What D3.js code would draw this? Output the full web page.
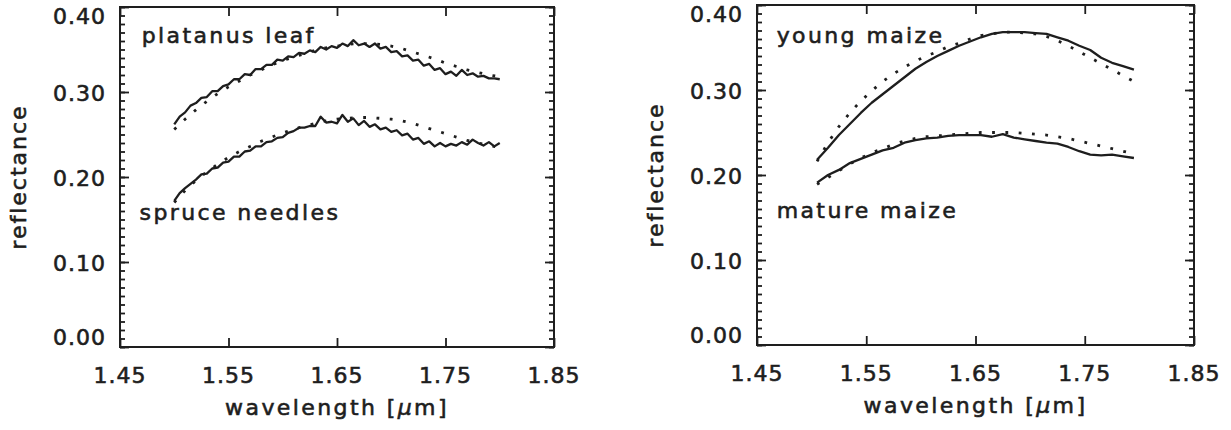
<!DOCTYPE html>
<html lang="en">
<head>
  <meta charset="UTF-8" />
  <title>Reflectance spectra 1.5 - 1.8 um</title>
  <script src="https://cdn.jsdelivr.net/npm/d3@7"></script>
  <style>
    body {
      margin: 0;
      background-color: #ffffff;
    }
    svg text {
      font-family: "DejaVu Sans", sans-serif;
      fill: #1e1e1e;
      stroke: #1e1e1e;
      stroke-width: 0.6px;
    }
  </style>
</head>
<body>
  <div id="chart"></div>

  <script>
    // axis ticks
    const xTicks = [1.45, 1.55, 1.65, 1.75, 1.85];
    const yTicks = [0.00, 0.10, 0.20, 0.30, 0.40];

    // wavelength grids [um]
    const wlFine = [1.500, 1.505, 1.510, 1.515, 1.520, 1.525, 1.530, 1.535, 1.540, 1.545,
                    1.550, 1.555, 1.560, 1.565, 1.570, 1.575, 1.580, 1.585, 1.590, 1.595,
                    1.600, 1.605, 1.610, 1.615, 1.620, 1.625, 1.630, 1.635, 1.640, 1.645,
                    1.650, 1.655, 1.660, 1.665, 1.670, 1.675, 1.680, 1.685, 1.690, 1.695,
                    1.700, 1.705, 1.710, 1.715, 1.720, 1.725, 1.730, 1.735, 1.740, 1.745,
                    1.750, 1.755, 1.760, 1.765, 1.770, 1.775, 1.780, 1.785, 1.790, 1.795, 1.800];
    const wlCoarse = [1.50, 1.51, 1.52, 1.53, 1.54, 1.55, 1.56, 1.57, 1.58, 1.59,
                      1.60, 1.61, 1.62, 1.63, 1.64, 1.65, 1.66, 1.67, 1.68, 1.69,
                      1.70, 1.71, 1.72, 1.73, 1.74, 1.75, 1.76, 1.77, 1.78, 1.79, 1.80];
    const wlMaize = [1.505, 1.515, 1.525, 1.535, 1.545, 1.555, 1.565, 1.575, 1.585, 1.595,
                     1.605, 1.615, 1.625, 1.635, 1.645, 1.655, 1.665, 1.675, 1.685, 1.695,
                     1.705, 1.715, 1.725, 1.735, 1.745, 1.755, 1.765, 1.775, 1.785, 1.795];

    // left panel: measured (solid) and modelled (dotted)
    const platanusMeasured = [0.262, 0.271, 0.276, 0.284, 0.287, 0.293, 0.294, 0.301, 0.301, 0.307,
                              0.309, 0.315, 0.315, 0.321, 0.320, 0.327, 0.327, 0.332, 0.332, 0.338,
                              0.337, 0.342, 0.341, 0.346, 0.345, 0.349, 0.347, 0.353, 0.350, 0.354,
                              0.352, 0.357, 0.354, 0.361, 0.355, 0.357, 0.353, 0.357, 0.351, 0.353,
                              0.347, 0.348, 0.342, 0.343, 0.337, 0.338, 0.331, 0.333, 0.326, 0.328,
                              0.321, 0.324, 0.319, 0.326, 0.320, 0.322, 0.318, 0.319, 0.316, 0.316, 0.315];
    const platanusModel = [0.256, 0.268, 0.279, 0.289, 0.298, 0.306, 0.313, 0.320, 0.326, 0.332,
                           0.337, 0.341, 0.345, 0.349, 0.352, 0.354, 0.356, 0.357, 0.357, 0.356,
                           0.354, 0.351, 0.347, 0.343, 0.339, 0.334, 0.330, 0.326, 0.323, 0.320, 0.318];
    const spruceMeasured = [0.172, 0.181, 0.187, 0.192, 0.197, 0.203, 0.204, 0.210, 0.211, 0.217,
                            0.218, 0.224, 0.224, 0.230, 0.231, 0.236, 0.236, 0.241, 0.242, 0.246,
                            0.247, 0.252, 0.254, 0.258, 0.258, 0.260, 0.260, 0.271, 0.264, 0.265,
                            0.263, 0.273, 0.265, 0.269, 0.261, 0.266, 0.259, 0.262, 0.256, 0.258,
                            0.253, 0.255, 0.249, 0.251, 0.244, 0.246, 0.239, 0.242, 0.236, 0.240,
                            0.236, 0.239, 0.237, 0.241, 0.238, 0.244, 0.240, 0.237, 0.241, 0.236, 0.240];
    const spruceModel = [0.170, 0.184, 0.196, 0.206, 0.215, 0.223, 0.230, 0.236, 0.242, 0.247,
                         0.252, 0.256, 0.260, 0.263, 0.266, 0.268, 0.269, 0.270, 0.270, 0.269,
                         0.268, 0.266, 0.263, 0.259, 0.255, 0.251, 0.247, 0.243, 0.240, 0.237, 0.235];

    // right panel
    const youngMeasured = [0.218, 0.232, 0.247, 0.260, 0.273, 0.285, 0.295, 0.305, 0.315, 0.325,
                           0.333, 0.340, 0.346, 0.352, 0.357, 0.362, 0.366, 0.368, 0.368, 0.368,
                           0.367, 0.366, 0.362, 0.358, 0.352, 0.347, 0.338, 0.332, 0.328, 0.324];
    const youngModel = [0.216, 0.238, 0.257, 0.273, 0.287, 0.299, 0.310, 0.319, 0.327, 0.334,
                        0.340, 0.345, 0.351, 0.355, 0.360, 0.364, 0.366, 0.368, 0.368, 0.367,
                        0.366, 0.363, 0.358, 0.352, 0.345, 0.338, 0.331, 0.324, 0.317, 0.310];
    const matureMeasured = [0.191, 0.200, 0.206, 0.214, 0.219, 0.224, 0.229, 0.232, 0.238, 0.241,
                            0.243, 0.244, 0.246, 0.247, 0.247, 0.247, 0.245, 0.248, 0.244, 0.242,
                            0.240, 0.238, 0.237, 0.233, 0.228, 0.224, 0.223, 0.224, 0.222, 0.220];
    const matureModel = [0.189, 0.197, 0.205, 0.213, 0.220, 0.226, 0.231, 0.236, 0.240, 0.243,
                         0.245, 0.246, 0.247, 0.248, 0.249, 0.250, 0.250, 0.250, 0.250, 0.249,
                         0.248, 0.247, 0.245, 0.243, 0.240, 0.237, 0.234, 0.231, 0.228, 0.225];

    const ink = "#1e1e1e";
    const W = 1231, H = 430;

    const svg = d3.select("#chart")
      .append("svg")
        .attr("width", W)
        .attr("height", H);

    function drawPanel(box, curves, names) {
      const g = svg.append("g");

      const x = d3.scaleLinear().domain([1.45, 1.85]).range([box.left, box.right]);
      const y = d3.scaleLinear().domain([0, 0.40]).range([box.bottom, box.top]);

      const minorY = d3.range(0, 41).map(d => d / 100);

      // minor + major ticks on left and right (pointing inward)
      [[box.left, 1], [box.right, -1]].forEach(([px, dir]) => {
        const ax = dir > 0 ? d3.axisLeft(y) : d3.axisRight(y);
        g.append("g")
          .attr("transform", `translate(${px},0)`)
          .call(ax.tickValues(minorY).tickSize(-5).tickFormat(""))
          .call(s => s.select(".domain").remove());
        const ax2 = dir > 0 ? d3.axisLeft(y) : d3.axisRight(y);
        g.append("g")
          .attr("transform", `translate(${px},0)`)
          .call(ax2.tickValues(yTicks).tickSize(-9).tickFormat(""))
          .call(s => s.select(".domain").remove());
      });

      // major ticks on bottom and top
      g.append("g")
        .attr("transform", `translate(0,${box.bottom})`)
        .call(d3.axisBottom(x).tickValues(xTicks).tickSize(-9).tickFormat(""))
        .call(s => s.select(".domain").remove());
      g.append("g")
        .attr("transform", `translate(0,${box.top})`)
        .call(d3.axisTop(x).tickValues(xTicks).tickSize(-9).tickFormat(""))
        .call(s => s.select(".domain").remove());

      g.selectAll(".tick line")
        .attr("stroke", ink)
        .attr("stroke-width", 1.8);

      // frame
      g.append("rect")
        .attr("x", box.left)
        .attr("y", box.top)
        .attr("width", box.right - box.left)
        .attr("height", box.bottom - box.top)
        .attr("fill", "none")
        .attr("stroke", ink)
        .attr("stroke-width", 2);

      // y tick labels (end labels pulled inside the frame)
      g.selectAll(".ylab")
        .data(yTicks)
        .join("text")
          .attr("class", "ylab")
          .attr("x", box.left - 14)
          .attr("y", (d, i) => y(d) + (i === 0 ? -8 : i === yTicks.length - 1 ? 11 : 3))
          .attr("text-anchor", "end")
          .attr("dominant-baseline", "middle")
          .attr("font-size", 22)
          .attr("letter-spacing", 1)
          .text(d => d.toFixed(2));

      // x tick labels
      g.selectAll(".xlab")
        .data(xTicks)
        .join("text")
          .attr("class", "xlab")
          .attr("x", d => x(d))
          .attr("y", box.bottom + 30)
          .attr("text-anchor", "middle")
          .attr("dominant-baseline", "middle")
          .attr("font-size", 22)
          .attr("letter-spacing", 1)
          .text(d => d.toFixed(2));

      // axis titles
      const xt = g.append("text")
        .attr("x", (box.left + box.right) / 2)
        .attr("y", box.bottom + 62)
        .attr("text-anchor", "middle")
        .attr("dominant-baseline", "middle")
        .attr("font-size", 22)
        .attr("letter-spacing", 2.4);
      xt.append("tspan").text("wavelength [");
      xt.append("tspan").attr("font-style", "italic").text("μ");
      xt.append("tspan").text("m]");

      g.append("text")
        .attr("transform", `translate(${box.left - 100},${(box.top + box.bottom) / 2}) rotate(-90)`)
        .attr("text-anchor", "middle")
        .attr("dominant-baseline", "middle")
        .attr("font-size", 22)
        .attr("letter-spacing", 2)
        .text("reflectance");

      // curves
      const line = d3.line()
        .x(d => x(d[0]))
        .y(d => y(d[1]));

      curves.forEach(c => {
        const pts = c.wl.map((w, i) => [w, c.values[i]]);
        g.append("path")
          .datum(pts)
          .attr("fill", "none")
          .attr("stroke", ink)
          .attr("stroke-width", c.dotted ? 2.8 : 2.3)
          .attr("stroke-linejoin", "round")
          .attr("stroke-dasharray", c.dotted ? "2.8 10.5" : null)
          .attr("d", line);
      });

      // curve names
      names.forEach(n => {
        g.append("text")
          .attr("x", x(n.at[0]))
          .attr("y", y(n.at[1]))
          .attr("font-size", 22)
          .attr("letter-spacing", 2.4)
          .text(n.text);
      });
    }

    drawPanel(
      {left: 120, right: 554, top: 7, bottom: 347},
      [
        {wl: wlFine, values: platanusMeasured},
        {wl: wlCoarse, values: platanusModel, dotted: true},
        {wl: wlFine, values: spruceMeasured},
        {wl: wlCoarse, values: spruceModel, dotted: true}
      ],
      [
        {text: "platanus leaf", at: [1.470, 0.358]},
        {text: "spruce needles", at: [1.468, 0.149]}
      ]
    );

    drawPanel(
      {left: 757, right: 1194, top: 5, bottom: 345},
      [
        {wl: wlMaize, values: youngMeasured},
        {wl: wlMaize, values: youngModel, dotted: true},
        {wl: wlMaize, values: matureMeasured},
        {wl: wlMaize, values: matureModel, dotted: true}
      ],
      [
        {text: "young maize", at: [1.468, 0.355]},
        {text: "mature maize", at: [1.468, 0.149]}
      ]
    );
  </script>
</body>
</html>
